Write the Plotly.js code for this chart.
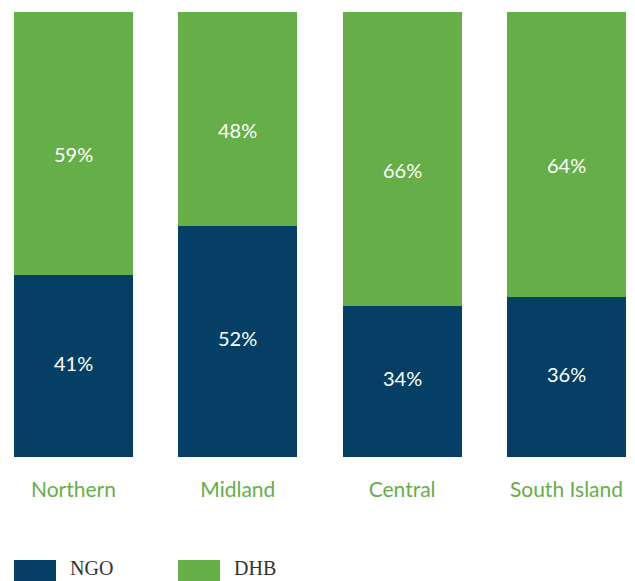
<!DOCTYPE html>
<html>
<head>
<meta charset="utf-8">
<script src="https://cdn.plot.ly/plotly-3.0.1.min.js"></script>
<style>html,body{margin:0;padding:0;background:#fff;}#chart{width:635px;height:581px;}</style>
</head>
<body>
<div id="chart"></div>
<script>
var categories = ['Northern', 'Midland', 'Central', 'South Island'];
var ngoValues = [41, 52, 34, 36];
var dhbValues = [59, 48, 66, 64];
var seriesNames = ['NGO', 'DHB'];
var colors = ['#053F66', '#66AE47'];

var labelFont = {family: 'Lato, "Open Sans", sans-serif', size: 20, color: '#ffffff'};

var traces = [ngoValues, dhbValues].map(function (vals, i) {
  return {
    type: 'bar',
    name: seriesNames[i],
    x: categories,
    y: vals,
    width: 0.724,
    marker: {color: colors[i], line: {width: 0}},
    hoverinfo: 'none'
  };
});

var shapes = [];
var annotations = [];

// value labels, positioned from the data
categories.forEach(function (c, k) {
  annotations.push({x: c, y: ngoValues[k] / 2, xref: 'x', yref: 'y', showarrow: false,
    text: ngoValues[k] + '%', font: labelFont, yshift: 3});
  annotations.push({x: c, y: ngoValues[k] + dhbValues[k] / 2, xref: 'x', yref: 'y', showarrow: false,
    text: dhbValues[k] + '%', font: labelFont, yshift: -11});
});

var legendX = [14, 178];
seriesNames.forEach(function (n, i) {
  shapes.push({type: 'rect', xref: 'paper', yref: 'paper',
    x0: legendX[i] / 635, x1: (legendX[i] + 42) / 635,
    y0: -(560 - 457) / 445, y1: -(584 - 457) / 445,
    fillcolor: colors[i], line: {width: 0}});
  annotations.push({xref: 'paper', yref: 'paper', x: (legendX[i] + 55) / 635, y: -(580 - 457) / 445,
    xanchor: 'left', yanchor: 'bottom', showarrow: false, text: n, borderpad: 0,
    font: {family: '"Liberation Serif", "DejaVu Serif", serif', size: 20, color: '#333333'}});
});

var layout = {
  width: 635, height: 581,
  margin: {l: 0, r: 0, t: 12, b: 124},
  barmode: 'stack',
  showlegend: false,
  paper_bgcolor: '#ffffff',
  plot_bgcolor: '#ffffff',
  xaxis: {range: [-0.447, 3.417], showline: false, showgrid: false, zeroline: false,
    ticks: '', ticklabelstandoff: 18, fixedrange: true,
    tickfont: {family: 'Lato, "Open Sans", sans-serif', size: 21, color: '#66AE47'}},
  yaxis: {range: [0, 100], visible: false, showgrid: false, zeroline: false, fixedrange: true},
  shapes: shapes,
  annotations: annotations
};

Plotly.newPlot('chart', traces, layout, {displayModeBar: false, staticPlot: true});
</script>
</body>
</html>
